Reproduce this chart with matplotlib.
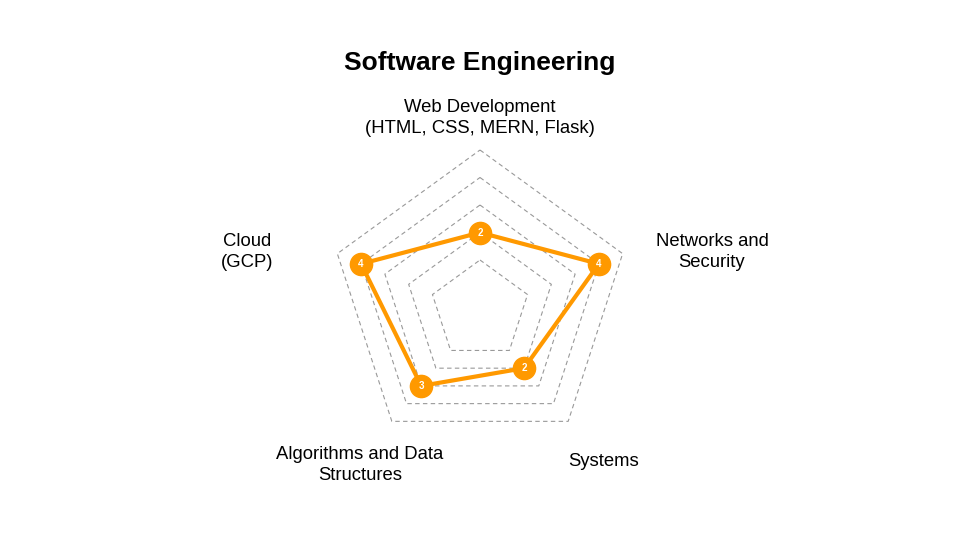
import numpy as np
import matplotlib.pyplot as plt

plt.rcParams['font.family'] = ['Liberation Sans', 'DejaVu Sans']

# ---------- data ----------
categories = [
  'Web Development\n(HTML, CSS, MERN, Flask)',
  'Networks and\nSecurity',
  'Systems',
  'Algorithms and Data\nStructures',
  'Cloud\n(GCP)',
]
scores = [2, 4, 2, 3, 4]
levels = [1, 2, 3, 4, 5]

# ---------- layout ----------
ORANGE = '#FF9900'
GRID = '#999999'
ORIGIN = 1.0   # value 0 sits one ring-step out from the centre
DRIFT = 0.1    # rings in the original creep upward as they get bigger
# label anchors in pixels (x, y from top)
label_px = [(480, 118), (712, 252), (604, 462), (360, 465), (247, 252)]

theta = np.linspace(0, 2 * np.pi, len(categories), endpoint=False)


def to_xy(values):
  r = np.asarray(values, dtype=float) + ORIGIN
  x = r * np.sin(theta)
  y = r * np.cos(theta) + DRIFT * r
  return np.append(x, x[0]), np.append(y, y[0])


fig = plt.figure(figsize=(9.6, 5.4), dpi=100)
ax = fig.add_axes([0, 0, 1, 1])
# 25 px per unit, chart centre at (480, 315) px
ax.set_xlim(-480 / 25, 480 / 25)
ax.set_ylim(-(540 - 315) / 25, 315 / 25)
ax.axis('off')

# grid rings
for lv in levels:
  gx, gy = to_xy([lv] * len(categories))
  ax.plot(gx, gy, color=GRID, lw=0.8, linestyle=(0, (4, 3)), zorder=1)

# score polygon
sx, sy = to_xy(scores)
ax.plot(sx, sy, color=ORANGE, lw=3, solid_joinstyle='round', zorder=2)
ax.plot(sx[:-1], sy[:-1], 'o', color=ORANGE, markersize=16, zorder=3)
for x, y, s in zip(sx[:-1], sy[:-1], scores):
  ax.text(x, y, str(s), color='white', fontsize=7, fontweight='bold',
          ha='center', va='center', zorder=4)

# axis labels
for (px, py), lab in zip(label_px, categories):
  fig.text(px / 960, 1 - py / 540, lab, fontsize=13.3, ha='center', va='center',
           multialignment='center', linespacing=1.35)

fig.text(0.5, 1 - 70 / 540, 'Software Engineering', fontsize=19, fontweight='bold',
         ha='center', va='baseline')

fig.savefig('out.png', dpi=100)
